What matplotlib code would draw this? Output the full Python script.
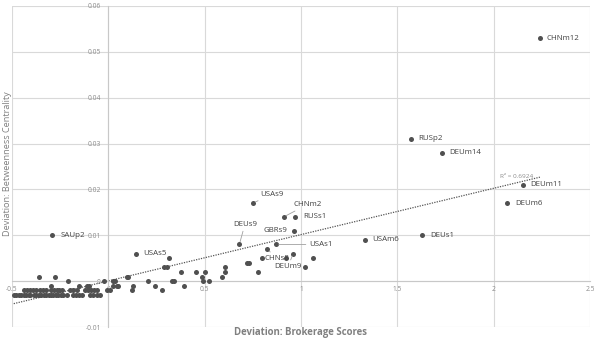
import numpy as np
import matplotlib
matplotlib.use("Agg")
import matplotlib.pyplot as plt

# ---------------- data ----------------
label_names = ["CHNm12", "RUSp2", "DEUm14", "DEUm11", "DEUm6", "DEUs1", "USAm6",
               "SAUp2", "USAs5", "USAs9", "CHNm2", "RUSs1", "GBRs9", "DEUs9",
               "USAs1", "CHNs8", "DEUm9"]
label_x = [2.24, 1.57, 1.73, 2.15, 2.07, 1.63, 1.33,
           -0.29, 0.145, 0.75, 0.91, 0.97, 0.965, 0.68,
           0.87, 0.825, 0.96]
label_y = [0.053, 0.031, 0.028, 0.021, 0.017, 0.010, 0.009,
           0.010, 0.006, 0.017, 0.014, 0.014, 0.011, 0.008,
           0.008, 0.007, 0.006]

# unlabeled points, grouped by their (rounded) betweenness deviation
row_m003_x = [-0.491, -0.481, -0.466, -0.455, -0.44, -0.429, -0.414, -0.404, -0.388, -0.378,
              -0.362, -0.352, -0.336, -0.326, -0.31, -0.30, -0.285, -0.274, -0.259, -0.248,
              -0.233, -0.217, -0.181, -0.166, -0.15, -0.135, -0.093, -0.078, -0.057, -0.041]
row_m002_x = [-0.436, -0.42, -0.405, -0.389, -0.374, -0.353, -0.338, -0.322, -0.296, -0.281,
              -0.265, -0.255, -0.24, -0.198, -0.182, -0.162, -0.12, -0.105, -0.089, -0.074,
              -0.058, -0.007, 0.009, 0.125, 0.276]
row_m001_x = [-0.298, -0.15, -0.109, -0.098, 0.026, 0.043, 0.052, 0.129, 0.242, 0.393]
row_000_x = [-0.21, -0.025, 0.024, 0.037, 0.207, 0.328, 0.34, 0.492, 0.521]
row_p001_x = [-0.362, -0.276, 0.095, 0.1, 0.486, 0.59]
row_p002_x = [0.376, 0.456, 0.5, 0.604, 0.776]
row_p003_x = [0.288, 0.302, 0.604, 1.023]
row_p004_x = [0.72, 0.73]
row_p005_x = [0.314, 0.795, 0.924, 1.06]
row_levels = [-0.003, -0.002, -0.001, 0.0, 0.001, 0.002, 0.003, 0.004, 0.005]

# linear trendline (slope, intercept)
trend_coef = [0.0101, 0.00005]
r2_text = "R² = 0.6924"

x_ticks = [-0.5, 0, 0.5, 1, 1.5, 2, 2.5]
x_tick_labels = ["-0.5", "0", "0.5", "1", "1.5", "2", "2.5"]
y_ticks = [-0.01, 0, 0.01, 0.02, 0.03, 0.04, 0.05, 0.06]
y_tick_labels = ["-0.01", "0", "0.01", "0.02", "0.03", "0.04", "0.05", "0.06"]
x_title = "Deviation: Brokerage Scores"
y_title = "Deviation: Betweenness Centrality"

# ---------------- assemble ----------------
rows = [row_m003_x, row_m002_x, row_m001_x, row_000_x, row_p001_x,
        row_p002_x, row_p003_x, row_p004_x, row_p005_x]
ux = []
uy = []
for xs, lv in zip(rows, row_levels):
    ux += xs
    uy += [lv] * len(xs)
all_x = np.array(ux + label_x)
all_y = np.array(uy + label_y)

plt.rcParams['font.family'] = ['Open Sans', 'DejaVu Sans']

fig = plt.figure(figsize=(5.97, 3.5), dpi=100)
ax = fig.add_axes([12 / 597, 1 - 327 / 350, 578 / 597, 321 / 350])
ax.set_xlim(-0.5, 2.5)
ax.set_ylim(-0.01, 0.06)

grid_c = "#d9d9d9"
ax.set_xticks(x_ticks)
ax.set_xticklabels(x_tick_labels)
ax.set_yticks(y_ticks)
ax.set_yticklabels(y_tick_labels)
ax.grid(True, color=grid_c, linewidth=0.8)
ax.set_axisbelow(True)
for s in ["top", "right"]:
    ax.spines[s].set_visible(False)
ax.spines["left"].set_position(("data", 0))
ax.spines["bottom"].set_position(("data", 0))
ax.spines["left"].set_color("#c8c8c8")
ax.spines["bottom"].set_color("#c8c8c8")
ax.spines["left"].set_linewidth(0.8)
ax.spines["bottom"].set_linewidth(0.8)
ax.tick_params(axis="both", length=0, labelsize=4.8, labelcolor="#8a8a8a")
ax.tick_params(axis="x", pad=3.5)
ax.tick_params(axis="y", pad=5.5)

# trendline
tx = np.array([all_x.min(), all_x.max()])
ty = np.polyval(trend_coef, tx)
ax.plot(tx, ty, linestyle=(0, (1, 1)), color="#555555", linewidth=0.9, zorder=2)
ax.annotate(r2_text, xy=(tx[1], ty[1]), xytext=(-17, 0.5),
            textcoords="offset points", fontsize=4.6, color="#8a8a8a",
            ha="center", va="center")

ax.scatter(all_x, all_y, s=13, color="#505050", zorder=3, linewidths=0)

# labels: offsets in points (dx, dy), alignment, leader line
lab_style = dict(fontsize=5.7, color="#404040")
offsets = {
    "CHNm12": ((5, 0), "left", False),
    "RUSp2": ((5, 0), "left", False),
    "DEUm14": ((5.5, 0), "left", False),
    "DEUm11": ((5.5, 0), "left", False),
    "DEUm6": ((5.5, 0), "left", False),
    "DEUs1": ((5.5, 0), "left", False),
    "USAm6": ((5.5, 0), "left", False),
    "SAUp2": ((5.5, 0), "left", False),
    "USAs5": ((5, 0), "left", False),
    "RUSs1": ((5.5, 0), "left", False),
    "GBRs9": ((-5, 0), "right", False),
    "USAs9": ((5.5, 6.5), "left", True),
    "CHNm2": ((7, 9), "left", True),
    "DEUs9": ((4, 14.5), "center", True),
    "USAs1": ((24, 0), "left", True),
    "CHNs8": ((7, -7), "center", True),
    "DEUm9": ((-4, -9.5), "center", True),
}
for name, lx, ly in zip(label_names, label_x, label_y):
    (dx, dy), ha, lead = offsets[name]
    kw = {}
    if lead:
        kw["arrowprops"] = dict(arrowstyle="-", color="#a0a0a0", lw=0.6,
                                shrinkA=0.5, shrinkB=2)
    ax.annotate(name, xy=(lx, ly), xytext=(dx, dy), textcoords="offset points",
                ha=ha, va="center", **lab_style, **kw)

fig.text(8 / 597, 1 - 164 / 350, y_title, rotation=90, ha="center", va="center",
         fontsize=6.6, color="#808080")
fig.text(301 / 597, 1 - 333 / 350, x_title, ha="center", va="center",
         fontsize=6.9, color="#808080", fontweight="bold")

fig.savefig("out.png", dpi=100)
